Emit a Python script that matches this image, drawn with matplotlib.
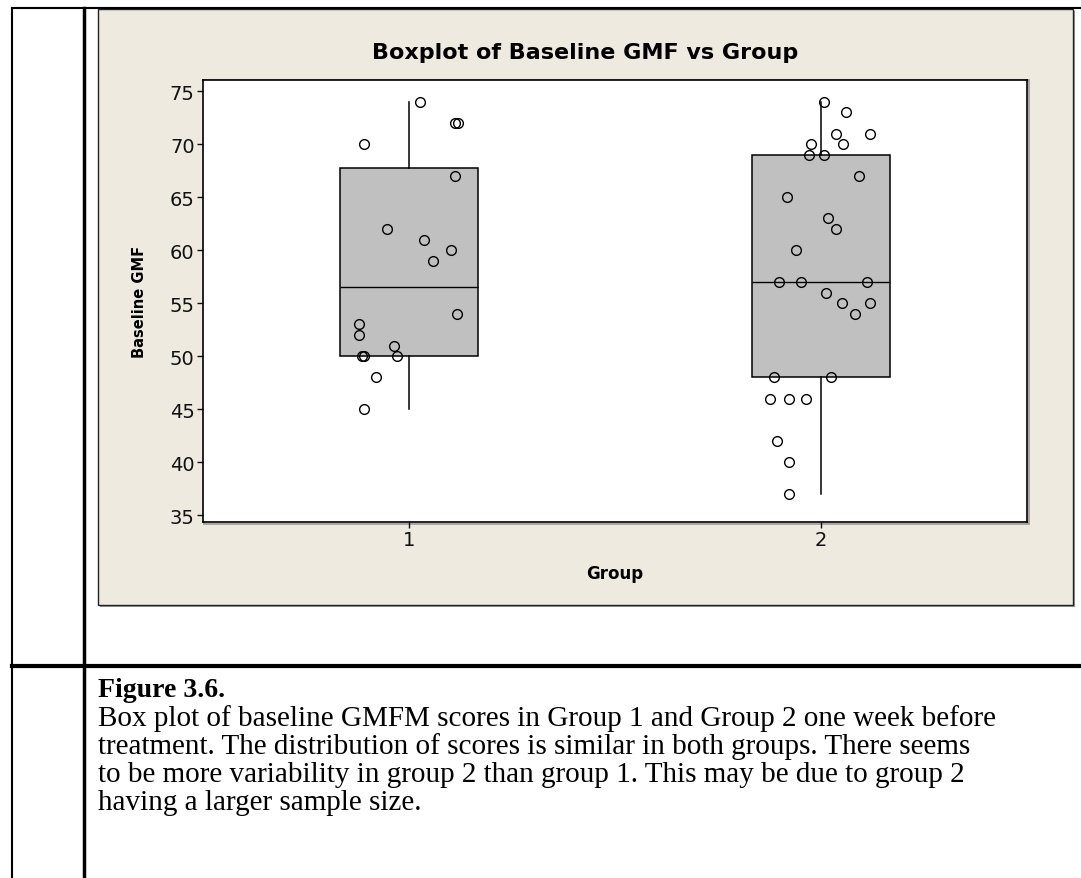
import numpy as np
import matplotlib.pyplot as plt
from matplotlib.patches import Rectangle
from matplotlib.lines import Line2D

# baseline GMF scores per group, with the horizontal jitter used for the dots
groups = [1, 2]
gmf_group1 = [74, 72, 72, 70, 67, 62, 61, 60, 59, 54, 53, 52, 51, 50, 50, 50, 48, 45]
jitter_group1 = [0.026, 0.111, 0.118, -0.110, 0.112, -0.053, 0.037, 0.103, 0.058,
                 0.116, -0.121, -0.121, -0.036, -0.115, -0.110, -0.028, -0.081, -0.110]
gmf_group2 = [74, 73, 71, 71, 70, 70, 69, 69, 67, 65, 63, 62, 60, 57, 57, 57, 56, 55,
              55, 54, 48, 48, 46, 46, 46, 42, 40, 37]
jitter_group2 = [0.008, 0.061, 0.037, 0.120, -0.024, 0.053, -0.028, 0.008, 0.092,
                 -0.082, 0.017, 0.037, -0.061, -0.102, -0.049, 0.112, 0.012, 0.050,
                 0.120, 0.082, -0.114, 0.025, -0.124, -0.078, -0.036, -0.106, -0.078, -0.078]
y_ticks = [35, 40, 45, 50, 55, 60, 65, 70, 75]

caption_title = "Figure 3.6."
caption_lines = [
    "Box plot of baseline GMFM scores in Group 1 and Group 2 one week before",
    "treatment. The distribution of scores is similar in both groups. There seems",
    "to be more variability in group 2 than group 1. This may be due to group 2",
    "having a larger sample size.",
]

W, H = 1081, 879


def fx(px):
    return px / W


def fy(py):
    return 1 - py / H


def box_stats(values):
    # quartiles at (n+1)p positions, whiskers to the furthest point within 1.5 IQR
    v = np.asarray(values, dtype=float)
    q1, med, q3 = np.percentile(v, [25, 50, 75], method="weibull")
    iqr = q3 - q1
    lo = v[v >= q1 - 1.5 * iqr].min()
    hi = v[v <= q3 + 1.5 * iqr].max()
    return dict(med=med, q1=q1, q3=q3, whislo=lo, whishi=hi, fliers=[])


fig = plt.figure(figsize=(W / 100, H / 100), dpi=100)
fig.patch.set_facecolor("white")

# beige graph panel with a soft shadow
fig.add_artist(Rectangle((fx(100), fy(608)), (1073 - 98) / W, (606 - 10) / H,
                         transform=fig.transFigure, facecolor="#9a9a9a",
                         edgecolor="none", zorder=-4))
fig.add_artist(Rectangle((fx(98), fy(606)), (1073 - 98) / W, (606 - 10) / H,
                         transform=fig.transFigure, facecolor="#eeeae0",
                         edgecolor="#222222", linewidth=1, zorder=-3))
# thin grey bevel around the data region
fig.add_artist(Rectangle((fx(204), fy(525)), 825 / W, 444 / H,
                         transform=fig.transFigure, facecolor="none",
                         edgecolor="#9a9a9a", linewidth=1.2, zorder=-1))

# document table rules
fig.add_artist(Line2D([fx(12), 1], [fy(9), fy(9)], color="black", linewidth=1.5))
fig.add_artist(Line2D([fx(12), fx(12)], [0, fy(9)], color="black", linewidth=1.5))
fig.add_artist(Line2D([fx(84), fx(84)], [0, fy(9)], color="black", linewidth=2.5))
fig.add_artist(Line2D([fx(12), 1], [fy(667), fy(667)], color="black", linewidth=3))

ax = fig.add_axes([fx(203), fy(523), 824 / W, 442 / H])
ax.set_facecolor("white")

stats = [box_stats(gmf_group1), box_stats(gmf_group2)]
ax.bxp(stats, positions=groups, widths=0.333, patch_artist=True, showcaps=False,
       showfliers=False,
       boxprops=dict(facecolor="#c0c0c0", edgecolor="black", linewidth=1.1),
       medianprops=dict(color="black", linewidth=1),
       whiskerprops=dict(color="black", linewidth=1.1))

for g, vals, jit in [(1, gmf_group1, jitter_group1), (2, gmf_group2, jitter_group2)]:
    xs = [g + j for j in jit]
    ax.plot(xs, vals, "o", markerfacecolor="none", markeredgecolor="black",
            markersize=7, markeredgewidth=1, zorder=3)

ax.set_xlim(0.5, 2.5)
ax.set_ylim(34.35, 76.05)
ax.set_xticks(groups)
ax.set_yticks(y_ticks)
ax.tick_params(direction="out", length=4, width=1, labelsize=14, pad=2,
               colors="#111111")
for s in ax.spines.values():
    s.set_linewidth(1.2)

ax.set_xlabel("Group", fontsize=12, fontweight="bold")
ax.xaxis.set_label_coords(0.5, -0.095)
ax.set_ylabel("Baseline GMF", fontsize=10.5, fontweight="bold")
ax.yaxis.set_label_coords(-0.068, 0.5)

fig.text(fx(585.5), fy(53), "Boxplot of Baseline GMF vs Group", fontsize=16,
         fontweight="bold", ha="center", va="center")

# caption below the chart
fig.text(fx(98), fy(697), caption_title, family="Liberation Serif", fontsize=20,
         fontweight="bold", ha="left", va="baseline")
for i, line in enumerate(caption_lines):
    fig.text(fx(98), fy(726 + 28 * i), line, family="Liberation Serif", fontsize=21,
             ha="left", va="baseline")

fig.savefig("out.png", dpi=100)
